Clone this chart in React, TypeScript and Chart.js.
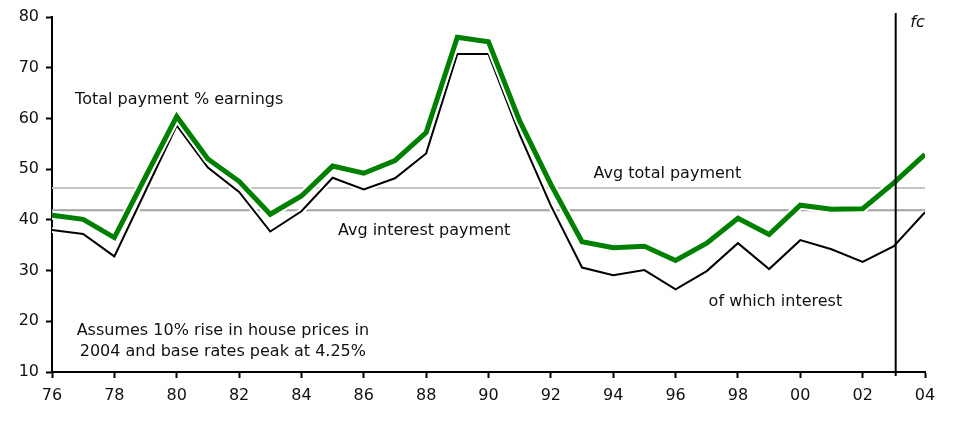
import React, { useEffect, useRef } from "react";
import { Chart, registerables } from "chart.js";

Chart.register(...registerables);

const years = [1976, 1977, 1978, 1979, 1980, 1981, 1982, 1983, 1984, 1985, 1986, 1987, 1988, 1989, 1990, 1991, 1992, 1993, 1994, 1995, 1996, 1997, 1998, 1999, 2000, 2001, 2002, 2003, 2004];
const totalPayment = [40.9, 40.1, 36.5, 48.5, 60.4, 52.0, 47.6, 41.1, 44.7, 50.6, 49.2, 51.7, 57.2, 76.0, 75.1, 59.5, 47.0, 35.7, 34.5, 34.8, 32.0, 35.4, 40.3, 37.1, 42.9, 42.1, 42.2, 47.3, 52.9];
const interestPayment = [38.0, 37.2, 32.8, 45.7, 58.6, 50.3, 45.5, 37.7, 41.7, 48.3, 46.0, 48.2, 53.1, 72.7, 72.7, 56.8, 42.8, 30.6, 29.1, 30.1, 26.3, 29.9, 35.4, 30.3, 36.0, 34.2, 31.7, 34.8, 41.5];
const avgTotal = 46.3;
const avgInterest = 41.9;
const fcYear = 2003.06;
const fcRange = [9.2, 80.8];
const yTicks = [10, 20, 30, 40, 50, 60, 70, 80];

const annotations = [
  { text: "Total payment % earnings", x: 1976.74, y: 63.7, align: "left", italic: false },
  { text: "Avg total payment", x: 1993.37, y: 49.0, align: "left", italic: false },
  { text: "Avg interest payment", x: 1985.17, y: 37.9, align: "left", italic: false },
  { text: "of which interest", x: 1997.06, y: 23.8, align: "left", italic: false },
  { text: "Assumes 10% rise in house prices in", x: 1981.48, y: 18.1, align: "center", italic: false },
  { text: "2004 and base rates peak at 4.25%", x: 1981.48, y: 14.0, align: "center", italic: false },
  { text: "fc", x: 2003.53, y: 78.9, align: "left", italic: true },
];

const FONT = "'DejaVu Sans', Verdana, sans-serif";

export default function App() {
  const ref = useRef<HTMLCanvasElement | null>(null);
  useEffect(() => {
    document.body.style.margin = "0";
    const canvas = ref.current;
    if (!canvas) return;
    const pts = (vals: number[]) => years.map((x, i) => ({ x, y: vals[i] }));
    const textPlugin = {
      id: "annot",
      afterDatasetsDraw(chart: any) {
        const ctx = chart.ctx;
        const xs = chart.scales.x;
        const ys = chart.scales.y;
        ctx.save();
        ctx.fillStyle = "#111";
        ctx.textBaseline = "middle";
        for (const a of annotations) {
          ctx.font = `${a.italic ? "italic " : ""}16px ${FONT}`;
          ctx.textAlign = a.align;
          ctx.fillText(a.text, xs.getPixelForValue(a.x), ys.getPixelForValue(a.y));
        }
        ctx.restore();
      },
    };
    const chart = new Chart(canvas, {
      type: "line",
      data: {
        datasets: [
          {
            data: [{ x: fcYear, y: fcRange[0] }, { x: fcYear, y: fcRange[1] }],
            borderColor: "#000",
            borderWidth: 2,
            pointRadius: 0,
            clip: false as any,
          },
          {
            data: pts(totalPayment),
            borderColor: "#008000",
            borderWidth: 5,
            pointRadius: 0,
          },
          {
            data: pts(totalPayment),
            borderColor: "#ffffff",
            borderWidth: 9,
            pointRadius: 0,
          },
          {
            data: pts(interestPayment),
            borderColor: "#000",
            borderWidth: 2,
            pointRadius: 0,
          },
          {
            data: pts(interestPayment),
            borderColor: "#ffffff",
            borderWidth: 6,
            pointRadius: 0,
          },
          {
            data: [{ x: years[0], y: avgTotal }, { x: years[years.length - 1], y: avgTotal }],
            borderColor: "#c4c4c4",
            borderWidth: 2,
            pointRadius: 0,
          },
          {
            data: [{ x: years[0], y: avgInterest }, { x: years[years.length - 1], y: avgInterest }],
            borderColor: "#a0a0a0",
            borderWidth: 2,
            pointRadius: 0,
          },
        ],
      },
      options: {
        responsive: false,
        animation: false,
        events: [],
        layout: { padding: { top: 17, right: 42, left: 0, bottom: 0 } },
        plugins: { legend: { display: false }, tooltip: { enabled: false } },
        elements: { line: { tension: 0 } },
        scales: {
          x: {
            type: "linear",
            min: years[0],
            max: years[years.length - 1],
            afterFit(scale: any) {
              scale.height = 49;
            },
            ticks: {
              stepSize: 2,
              autoSkip: false,
              maxRotation: 0,
              padding: 8,
              color: "#111",
              font: { family: FONT, size: 16 },
              callback: (v: any) => String(Number(v) % 100).padStart(2, "0"),
            },
            grid: { drawOnChartArea: false, drawTicks: true, tickLength: 6, tickWidth: 2, tickColor: "#000" },
            border: { color: "#000", width: 2 },
          },
          y: {
            type: "linear",
            min: yTicks[0],
            max: yTicks[yTicks.length - 1],
            afterFit(scale: any) {
              scale.width = 52;
            },
            afterBuildTicks(scale: any) {
              scale.ticks = yTicks.map((v) => ({ value: v }));
            },
            ticks: {
              padding: 7,
              color: "#111",
              font: { family: FONT, size: 16 },
            },
            grid: { drawOnChartArea: false, drawTicks: true, tickLength: 6, tickWidth: 2, tickColor: "#000" },
            border: { color: "#000", width: 2 },
          },
        },
      },
      plugins: [textPlugin],
    } as any);
    return () => chart.destroy();
  }, []);
  return <canvas ref={ref} width={967} height={421} style={{ display: "block" }} />;
}
